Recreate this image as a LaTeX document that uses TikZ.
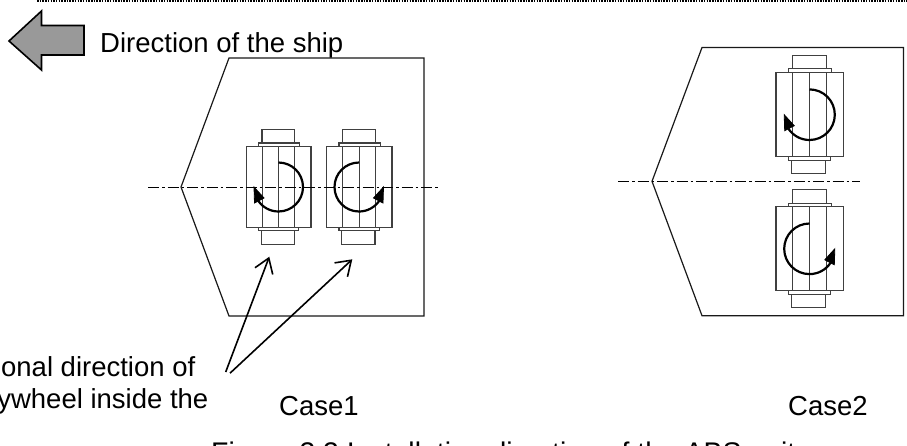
\documentclass[tikz,border=0pt]{standalone}
\usepackage{fontspec}
\setmainfont{Liberation Sans}
\usetikzlibrary{arrows.meta}
\tikzset{
  hull/.style={draw=black!90,line width=1.2pt,line join=miter},
  part/.style={draw=black!75,line width=1.2pt,fill=white},
  axis/.style={draw=black,line width=1.2pt,dash pattern=on 11pt off 3pt on 2.5pt off 3pt},
  spin/.style={draw=black,line width=2.2pt},
  spinhead/.style={fill=black,draw=black,line width=0.8pt,line join=miter},
  pointer/.style={draw=black,line width=1.6pt,-{Straight Barb[length=14pt,width=19pt,line width=1.6pt]}},
  label/.style={inner sep=0pt,font=\fontsize{27.5}{30}\selectfont,text=black},
  caption/.style={inner sep=0pt,font=\fontsize{28.4}{30}\selectfont,text=black}
}
% x, y of the outer box's top-left corner, width, height
\newcommand{\absunit}[4]{%
  \draw[part] ({#1+.24*#3},{#2-17}) rectangle ({#1+.75*#3},{#2-3});
  \draw[part] ({#1+.19*#3},{#2-3.5}) rectangle ({#1+.82*#3},#2);
  \draw[part] ({#1+.235*#3},{#2+#4+3.5}) rectangle ({#1+.74*#3},{#2+#4+17});
  \draw[part] ({#1+.19*#3},{#2+#4}) rectangle ({#1+.81*#3},{#2+#4+3.5});
  \draw[part] (#1,#2) rectangle ({#1+#3},{#2+#4});
  \draw[part] ({#1+.25*#3},#2) -- ({#1+.25*#3},{#2+#4});
  \draw[part] ({#1+.5*#3},#2) -- ({#1+.5*#3},{#2+#4});
  \draw[part] ({#1+.75*#3},#2) -- ({#1+.75*#3},{#2+#4});
}
% centre x, centre y, radius: clockwise arrow and counter-clockwise arrow
\newcommand{\cwspin}[3]{%
  \draw[spin] (#1,{#2-#3}) arc[start angle=90,end angle=-146,radius=#3pt];
  \filldraw[spinhead] ({#1-#3},#2) -- ({#1-#3+.5},{#2+16}) -- ({#1-#3+10},{#2+11}) -- cycle;
}
\newcommand{\ccwspin}[3]{%
  \draw[spin] (#1,{#2-#3}) arc[start angle=90,end angle=326,radius=#3pt];
  \filldraw[spinhead] ({#1+#3},#2) -- ({#1+#3-.5},{#2+16}) -- ({#1+#3-10},{#2+11}) -- cycle;
}
\begin{document}
\begin{tikzpicture}[x=1pt,y=-1pt]
\clip (0,0) rectangle (907,445);
\fill[white] (0,0) rectangle (907,445);
% top rule
\draw[black,line width=2.2pt,dash pattern=on 1.5pt off 1.2pt] (37,1) -- (907,1);
% direction arrow
\draw[fill=black!40,draw=black,line width=1.6pt,line join=miter]
  (9,41) -- (41.5,11) -- (41.5,25.5) -- (84,25.5) -- (84,55) -- (41.5,55) -- (41.5,70) -- cycle;
\node[label,anchor=base west] (dir) at (100,52.5) {Direction of the ship};
% Case 1
\draw[hull] (229,58) -- (424,58) -- (424,316) -- (229,316) -- (181,187) -- cycle;
\absunit{246.5}{146.5}{64.5}{80.8}
\absunit{326.5}{146.5}{65.5}{80.8}
\draw[axis] (148,187.5) -- (438,187.5);
\cwspin{278.5}{187}{24.5}
\ccwspin{359}{187}{24.5}
% Case 2
\draw[hull] (702,47.5) -- (903.5,47.5) -- (903.5,315.7) -- (702,315.7) -- (652,181.3) -- cycle;
\absunit{776}{72.3}{67.3}{84.4}
\absunit{776}{206.7}{67.3}{84}
\draw[axis] (618,181.5) -- (860,181.5);
\cwspin{809.5}{114.7}{25.3}
\ccwspin{809.5}{248.8}{25.3}
% pointers
\coordinate (tipA) at (269.3,256.7);
\coordinate (tipB) at (352.3,259.3);
\coordinate (startA) at (225.7,372);
\coordinate (startB) at (230,373.2);
\draw[pointer] (startA) -- (tipA);
\draw[pointer] (startB) -- (tipB);
% texts
\node[label,anchor=base east] (rota) at (195.5,376) {onal direction of};
\node[label,anchor=base east] (rotb) at (208.5,408) {ywheel inside the};
\node[label,anchor=base west] (case1) at (279,415) {Case1};
\node[label,anchor=base west] (case2) at (788,415) {Case2};
\node[caption,anchor=base west] (cap) at (211,462.3) {Figure 3.3 Installation direction of the ABS unit};
\end{tikzpicture}
\end{document}
